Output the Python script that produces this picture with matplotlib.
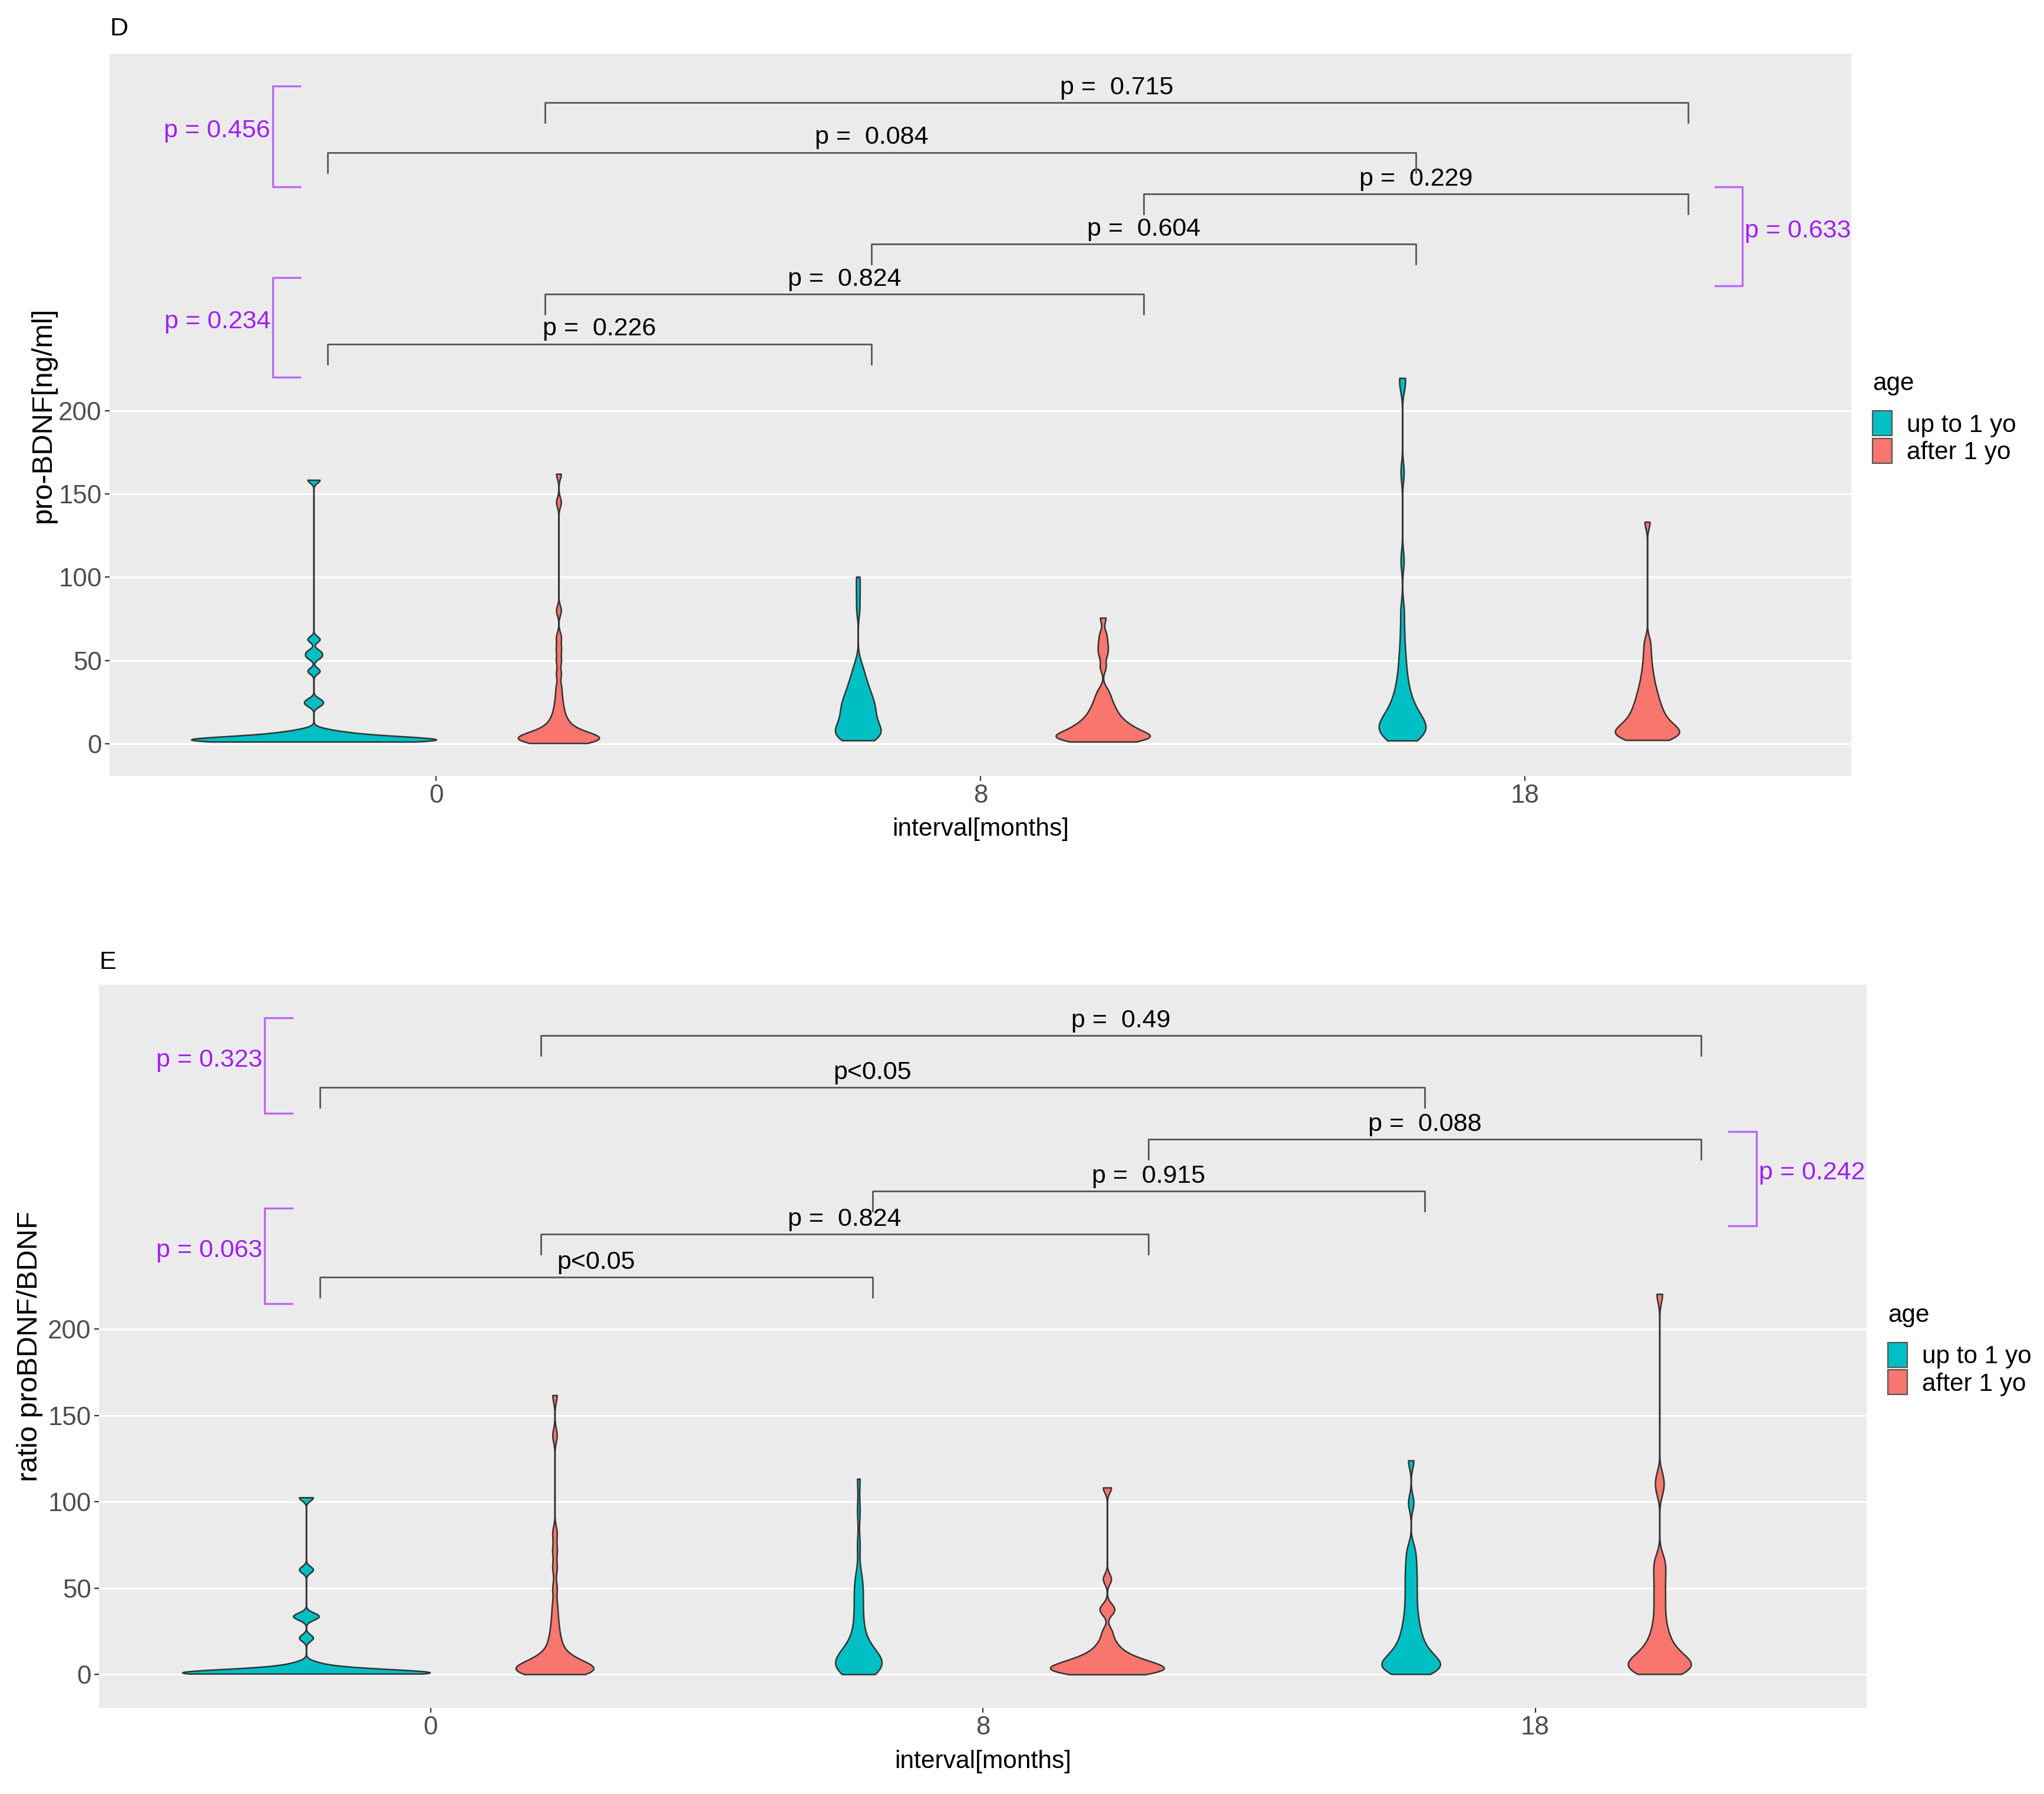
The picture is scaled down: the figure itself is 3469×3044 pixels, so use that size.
import numpy as np
from matplotlib import pyplot as plt
from matplotlib.patches import Patch

plt.rcParams['font.family'] = ['Liberation Sans', 'DejaVu Sans']

# categories / groups
intervals = ['0', '8', '18']
ages = ['up to 1 yo', 'after 1 yo']
colors = ['#00BFC4', '#F8766D']

# pro-BDNF [ng/ml], estimated observations per violin (interval, age)
pro_up_0 = [1.2, 1.3, 1.4, 1.5, 1.6, 1.7, 1.8, 1.9, 2.0, 2.1, 2.2, 2.3, 2.4, 2.5, 2.6, 2.8,
            3.0, 3.2, 3.5, 3.8, 4.2, 4.6, 5.1, 5.7, 6.4, 7.2, 8.2, 23.5, 26.0, 43.7, 52.1, 55.1,
            62.7, 158.4]
pro_after_0 = [0.3, 0.6, 0.9, 1.2, 1.5, 1.8, 2.1, 2.4, 2.7, 3.0, 3.3, 3.6, 3.9, 4.2, 4.6, 5.0,
               5.4, 5.9, 6.5, 7.2, 8.0, 9.0, 10.2, 11.6, 13.2, 15.0, 17.5, 20.5, 24.0, 28.5,
               34.0, 42.0, 50.0, 57.0, 64.0, 80.0, 145.0, 162.0]
pro_up_8 = [2.0, 2.5, 3.0, 3.5, 4.0, 4.5, 5.0, 5.5, 6.0, 6.6, 7.2, 7.9, 8.6, 9.4, 10.3, 11.2,
            12.1, 13.0, 14.0, 15.0, 16.0, 17.0, 18.0, 19.0, 20.0, 21.0, 22.0, 23.0, 24.0, 25.0,
            26.0, 27.0, 28.0, 29.5, 31.0, 32.5, 34.0, 35.5, 37.5, 39.5, 42.0, 45.0, 48.5,
            81.0, 91.0, 100.2]
pro_after_8 = [1.2, 1.5, 1.8, 2.1, 2.4, 2.7, 3.0, 3.3, 3.6, 3.9, 4.2, 4.5, 4.9, 5.3, 5.7, 6.2,
               6.7, 7.2, 7.8, 8.4, 9.0, 9.7, 10.4, 11.1, 11.8, 12.6, 13.5, 14.5, 15.6, 16.8,
               18.1, 19.5, 21.0, 22.7, 24.6, 26.8, 29.4, 32.5, 46.0, 53.0, 57.0, 61.0, 66.0, 75.6]
pro_up_18 = [1.9, 2.8, 3.6, 4.4, 5.2, 6.0, 6.8, 7.6, 8.4, 9.2, 10.0, 10.8, 11.6, 12.5, 13.4,
             14.4, 15.5, 16.7, 18.0, 19.5, 21.0, 22.8, 24.8, 27.0, 29.5, 32.5, 36.0, 40.0, 45.0,
             51.0, 58.0, 68.0, 80.0, 110.0, 163.0, 216.0, 219.6]
pro_after_18 = [2.2, 2.8, 3.4, 4.0, 4.6, 5.2, 5.8, 6.4, 7.0, 7.7, 8.4, 9.2, 10.0, 10.9, 11.9,
                13.0, 14.2, 15.5, 17.0, 18.5, 20.0, 21.7, 23.5, 25.5, 27.7, 30.0, 32.5, 35.5,
                39.0, 43.0, 48.0, 54.0, 61.0, 133.2]

# ratio proBDNF/BDNF
ratio_up_0 = [0.5, 0.55, 0.6, 0.65, 0.7, 0.75, 0.8, 0.85, 0.9, 0.95, 1.0, 1.1, 1.2, 1.3, 1.5,
              1.8, 2.2, 2.8, 3.6, 5.0, 6.5, 21.3, 33.0, 34.5, 60.8, 102.6]
ratio_after_0 = [0.2, 0.5, 0.8, 1.1, 1.4, 1.7, 2.0, 2.3, 2.6, 2.9, 3.2, 3.5, 3.9, 4.3, 4.8, 5.3,
                 5.9, 6.6, 7.4, 8.3, 9.3, 10.5, 12.0, 14.0, 16.5, 19.5, 23.0, 27.5, 33.0, 40.0,
                 50.0, 62.0, 72.0, 82.0, 138.6, 161.8]
ratio_up_8 = [0.2, 0.8, 1.4, 2.0, 2.6, 3.2, 3.8, 4.4, 5.0, 5.6, 6.2, 6.8, 7.4, 8.0, 8.7, 9.4,
              10.2, 11.0, 12.0, 13.2, 14.6, 16.2, 18.0, 20.5, 23.5, 27.0, 31.0, 35.5, 40.0, 44.5,
              49.0, 53.5, 58.0, 75.0, 95.0, 113.4]
ratio_after_8 = [0.1, 0.5, 0.9, 1.3, 1.7, 2.1, 2.5, 2.9, 3.3, 3.7, 4.1, 4.6, 5.1, 5.6, 6.2, 6.8,
                 7.5, 8.2, 9.0, 10.0, 11.2, 12.6, 14.4, 16.8, 20.0, 25.0, 36.5, 39.0, 55.4, 108.3]
ratio_up_18 = [0.3, 1.1, 1.9, 2.7, 3.5, 4.3, 5.1, 5.9, 6.7, 7.6, 8.6, 9.7, 10.9, 12.3, 13.9,
               15.7, 17.7, 20.0, 22.6, 25.5, 28.8, 32.5, 36.8, 41.5, 46.5, 51.5, 56.5, 61.5,
               67.0, 73.0, 99.6, 124.0]
ratio_after_18 = [0.3, 1.1, 1.9, 2.7, 3.5, 4.3, 5.1, 5.9, 6.7, 7.6, 8.6, 9.8, 11.2, 12.8, 14.7,
                  17.0, 19.8, 23.0, 27.0, 32.0, 38.0, 44.0, 50.0, 56.0, 62.0, 67.0, 107.0, 114.0,
                  220.4]

# p-values of the pairwise tests and of the age comparisons
pro_pvals = ['0.226', '0.824', '0.604', '0.229', '0.084', '0.715']
ratio_pvals = ['<0.05', '0.824', '0.915', '0.088', '<0.05', '0.49']
pro_age_pvals = ['0.234', '0.456', '0.633']
ratio_age_pvals = ['0.063', '0.323', '0.242']

# annotation layout
spans = [(0.8, 1.8), (1.2, 2.3), (1.8, 2.8), (2.3, 3.3), (0.8, 2.8), (1.2, 3.3)]
pro_heights = [240, 270, 300, 330, 355, 385]
ratio_heights = [230, 255, 280, 310, 340, 370]
pro_age_spans = [(220, 280, 'left'), (334.4, 394.8, 'left'), (275, 334.4, 'right')]
ratio_age_spans = [(214.8, 270.1, 'left'), (325, 380.3, 'left'), (260, 314.4, 'right')]

# violin style: kernel bandwidth and full width (x units)
pro_bw = [1.8, 3.0, 5.0, 3.0, 6.0, 4.0]
pro_widths = [0.45, 0.149, 0.084, 0.173, 0.086, 0.118]
ratio_bw = [1.9, 4.0, 6.5, 3.0, 4.5, 5.0]
ratio_widths = [0.448, 0.141, 0.084, 0.206, 0.106, 0.114]

W, H, DPI = 3469, 3044, 200
fig = plt.figure(figsize=(W / DPI, H / DPI), dpi=DPI)

FS = 15.5
PURPLE_TXT = '#A020F0'
PURPLE_LN = '#BB66F2'


def draw_panel(rect, samples, bws, widths, heights, pvals, age_spans, age_pvals,
               ylim, ylabel, ylab_x, xlab_y, tag, tag_y, tip):
    ax = fig.add_axes(rect)
    ax.set_facecolor('#EBEBEB')
    for s in ax.spines.values():
        s.set_visible(False)
    k = 0
    for i in range(3):
        for g in range(2):
            data = np.array(samples[k])
            pos = i + 1 + (-0.225 if g == 0 else 0.225)
            parts = ax.violinplot([data], positions=[pos], widths=widths[k],
                                  showextrema=False, points=1500,
                                  bw_method=bws[k] / np.std(data, ddof=1))
            for b in parts['bodies']:
                b.set_facecolor(colors[g])
                b.set_edgecolor('#333333')
                b.set_linewidth(0.9)
                b.set_alpha(1)
                b.set_zorder(3)
            k += 1

    ax.set_xlim(0.4, 3.6)
    ax.set_ylim(*ylim)
    ax.set_xticks([1, 2, 3])
    ax.set_xticklabels(intervals)
    ax.set_yticks([0, 50, 100, 150, 200])
    ax.grid(axis='y', color='white', lw=1.1)
    ax.grid(axis='x', visible=False)
    ax.set_axisbelow(True)
    ax.tick_params(axis='both', length=2.8, width=0.8, color='#333333',
                   labelcolor='#4D4D4D', labelsize=15.8, pad=2)

    ax.set_ylabel(ylabel, fontsize=17.6)
    ax.yaxis.label.set_va('center')
    ax.yaxis.set_label_coords(ylab_x, 0.5)
    ax.set_xlabel('interval[months]', fontsize=15.3)
    ax.xaxis.label.set_va('center')
    ax.xaxis.set_label_coords(0.5, xlab_y)

    # pairwise brackets
    for (x1, x2), y, p in zip(spans, heights, pvals):
        ax.plot([x1, x1, x2, x2], [y - tip, y, y, y - tip], color='#555555', lw=1.0,
                zorder=4)
        lab = 'p' + p if p.startswith('<') else 'p =  ' + p
        ax.annotate(lab, xy=((x1 + x2) / 2, y), xytext=(0, 5.2), textcoords='offset points',
                    ha='center', va='baseline', fontsize=FS, color='black')

    # age comparison brackets
    for (y1, y2, side), p in zip(age_spans, age_pvals):
        if side == 'left':
            xl, xa, dx, ha = 0.7, 0.75, -1.5, 'right'
        else:
            xl, xa, dx, ha = 3.4, 3.35, 1.5, 'left'
        ax.plot([xa, xl, xl, xa], [y1, y1, y2, y2], color=PURPLE_LN, lw=1.2, zorder=4)
        ax.annotate('p = ' + p, xy=(xl, (y1 + y2) / 2), xytext=(dx, 3.4),
                    textcoords='offset points', ha=ha, va='center', fontsize=FS,
                    color=PURPLE_TXT)

    handles = [Patch(facecolor=c, edgecolor='#555555', lw=0.8) for c in colors]
    leg = ax.legend(handles, ages, title='age', loc='center left',
                    bbox_to_anchor=(1 + 36 / (rect[2] * W), 0.4955), frameon=False,
                    fontsize=15.2, title_fontsize=15.2, handlelength=0.78,
                    handleheight=1.15, labelspacing=0.05, handletextpad=0.6, borderpad=0,
                    borderaxespad=0, alignment='left')
    leg._legend_box.sep = 9.5

    fig.text(rect[0], tag_y, tag, ha='left', va='center', fontsize=FS)
    return ax


pro_samples = [pro_up_0, pro_after_0, pro_up_8, pro_after_8, pro_up_18, pro_after_18]
ratio_samples = [ratio_up_0, ratio_after_0, ratio_up_8, ratio_after_8, ratio_up_18,
                 ratio_after_18]

draw_panel([186 / W, 1 - 1317 / H, 2956 / W, 1226 / H], pro_samples, pro_bw, pro_widths,
           pro_heights, pro_pvals, pro_age_spans, pro_age_pvals, (-19.5, 414.4),
           'pro-BDNF[ng/ml]', -0.0382, -0.0734, 'D', 1 - 49 / H, 12)
draw_panel([168 / W, 1 - 2898 / H, 3000 / W, 1226.6 / H], ratio_samples, ratio_bw,
           ratio_widths, ratio_heights, ratio_pvals, ratio_age_spans, ratio_age_pvals,
           (-19.3, 399.3), 'ratio proBDNF/BDNF', -0.0393, -0.0742, 'E', 1 - 1633 / H, 11.5)

fig.savefig('out.png', dpi=DPI)
